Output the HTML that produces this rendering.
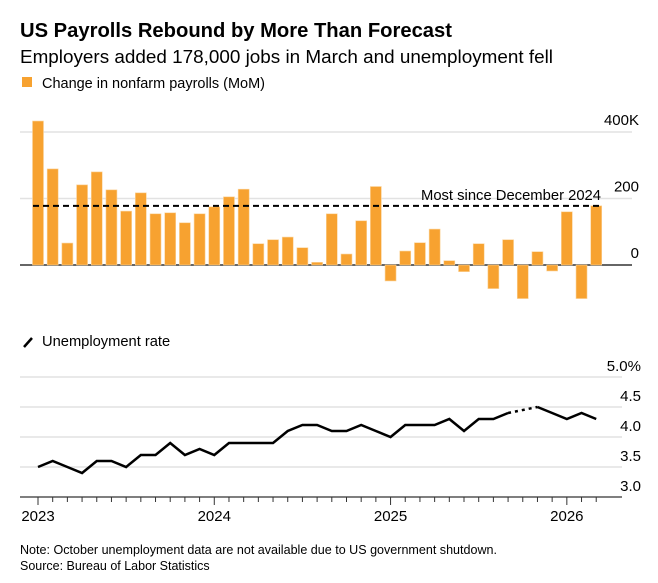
<!DOCTYPE html>
<html><head><meta charset="utf-8"><style>
body{margin:0;background:#fff;}
svg{display:block;font-family:"Liberation Sans",Arial,sans-serif;}
</style></head><body>
<svg id="chart" width="658" height="583" viewBox="0 0 658 583" xmlns="http://www.w3.org/2000/svg">
<text x="20" y="37" font-size="20" font-weight="bold" fill="#000" textLength="432" lengthAdjust="spacingAndGlyphs">US Payrolls Rebound by More Than Forecast</text>
<text x="20" y="63" font-size="18" fill="#000" textLength="533" lengthAdjust="spacingAndGlyphs">Employers added 178,000 jobs in March and unemployment fell</text>
<rect x="22" y="77" width="10" height="10" fill="#f7a230"/>
<text x="42" y="88" font-size="14.7" fill="#000" textLength="223" lengthAdjust="spacingAndGlyphs">Change in nonfarm payrolls (MoM)</text>
<g id="bars-grid"></g>
<g id="bars"></g>
<g id="bars-ann"></g>
<line x1="24" y1="347" x2="32" y2="338" stroke="#000" stroke-width="2.5"/>
<text x="42" y="346" font-size="14.7" fill="#000">Unemployment rate</text>
<g id="line-grid"></g>
<g id="line-series"></g>
<g id="x-axis"></g>
<text x="20" y="554" font-size="12.5" fill="#000" textLength="477" lengthAdjust="spacingAndGlyphs">Note: October unemployment data are not available due to US government shutdown.</text>
<text x="20" y="570" font-size="12.5" fill="#000">Source: Bureau of Labor Statistics</text>
</svg>
<script>
const payrolls = [433,289,66,241,280,226,162,217,154,157,127,154,
175,205,228,64,76,84,52,8,154,33,133,236,
-48,42,67,108,13,-20,64,-71,76,-101,40,-18,
160,-101,178];
const unemployment = [3.5,3.6,3.5,3.4,3.6,3.6,3.5,3.7,3.7,3.9,3.7,3.8,
3.7,3.9,3.9,3.9,3.9,4.1,4.2,4.2,4.1,4.1,4.2,4.1,
4.0,4.2,4.2,4.2,4.3,4.1,4.3,4.3,4.4,null,4.5,4.4,
4.3,4.4,4.3];
const payrollTicks = [0,200,400];
const payrollTickLabels = ["0","200","400K"];
const rateTicks = [3.0,3.5,4.0,4.5,5.0];
const rateTickLabels = ["3.0","3.5","4.0","4.5","5.0%"];
const yearLabels = ["2023","2024","2025","2026"];
const yearIndex = [0,12,24,36];
const annotationValue = 178;

const NS="http://www.w3.org/2000/svg";
function mk(tag,attrs,parent,text){const e=document.createElementNS(NS,tag);for(const k in attrs)e.setAttribute(k,attrs[k]);if(text!==undefined)e.textContent=text;parent.appendChild(e);return e;}
const xM = i => 38 + i*14.69;
const yP = v => 265 - v*0.3325;
const yR = v => 497 - (v-3.0)*60;

const bg=document.getElementById('bars-grid');
payrollTicks.forEach((t,i)=>{
  const l=mk('line',{x1:20,x2:632,y1:yP(t),y2:yP(t),stroke:t===0?'#333':'#e2e2e2','stroke-width':1.5},bg);
  
  
  const tx=mk('text',{x:639,y:yP(t)-7,'font-size':15,'text-anchor':'end',fill:'#000'},bg,payrollTickLabels[i]);
  
  
});
const bars=document.getElementById('bars');
payrolls.forEach((v,i)=>{
  const y0=yP(0), y1=yP(v);
  const r=mk('rect',{x:xM(i)-5.5,y:Math.min(y0,y1),width:11,height:Math.abs(y1-y0),fill:'#f7a230',stroke:'#fbd49c','stroke-width':0.6},bars);
  
  
});
const ann=document.getElementById('bars-ann');
const dl=mk('line',{x1:33,x2:603,y1:yP(annotationValue),y2:yP(annotationValue),stroke:'#000','stroke-width':2,'stroke-dasharray':'6,4'},ann);


const at=mk('text',{x:601,y:yP(annotationValue)-6,'font-size':15,'text-anchor':'end',fill:'#000',textLength:180,lengthAdjust:'spacingAndGlyphs'},ann,'Most since December 2024');



const lg=document.getElementById('line-grid');
rateTicks.forEach((t,i)=>{
  if(t>3.0){
    const l=mk('line',{x1:20,x2:622,y1:yR(t),y2:yR(t),stroke:'#e2e2e2','stroke-width':1.5},lg);
    
    
  }
  const tx=mk('text',{x:641,y:yR(t)-6,'font-size':15,'text-anchor':'end',fill:'#000'},lg,rateTickLabels[i]);
  
  
});
const ls=document.getElementById('line-series');
let segs=[],cur=[];
unemployment.forEach((v,i)=>{if(v===null){if(cur.length)segs.push(cur);cur=[];}else cur.push([xM(i),yR(v)]);});
if(cur.length)segs.push(cur);
segs.forEach(s=>{
  const p=mk('polyline',{points:s.map(p=>p.join(',')).join(' '),fill:'none',stroke:'#000','stroke-width':2.5,'stroke-linejoin':'miter'},ls);
  
  
});
unemployment.forEach((v,i)=>{
  if(v===null){
    let a=i-1,b=i+1;
    const p=mk('line',{x1:xM(a),y1:yR(unemployment[a]),x2:xM(b),y2:yR(unemployment[b]),stroke:'#000','stroke-width':2.5,'stroke-dasharray':'3,4'},ls);
    
    
  }
});
const xa=document.getElementById('x-axis');
const base=mk('line',{x1:20,x2:622,y1:497,y2:497,stroke:'#333','stroke-width':1.2},xa);


unemployment.forEach((v,i)=>{
  const major=yearIndex.includes(i);
  const t=mk('line',{x1:xM(i),x2:xM(i),y1:497,y2:major?505:502,stroke:'#333','stroke-width':1},xa);
  
  
});
yearLabels.forEach((y,k)=>{
  const t=mk('text',{x:xM(yearIndex[k]),y:521,'font-size':15,'text-anchor':'middle',fill:'#000'},xa,y);
  
  
});
</script>
</body></html>
